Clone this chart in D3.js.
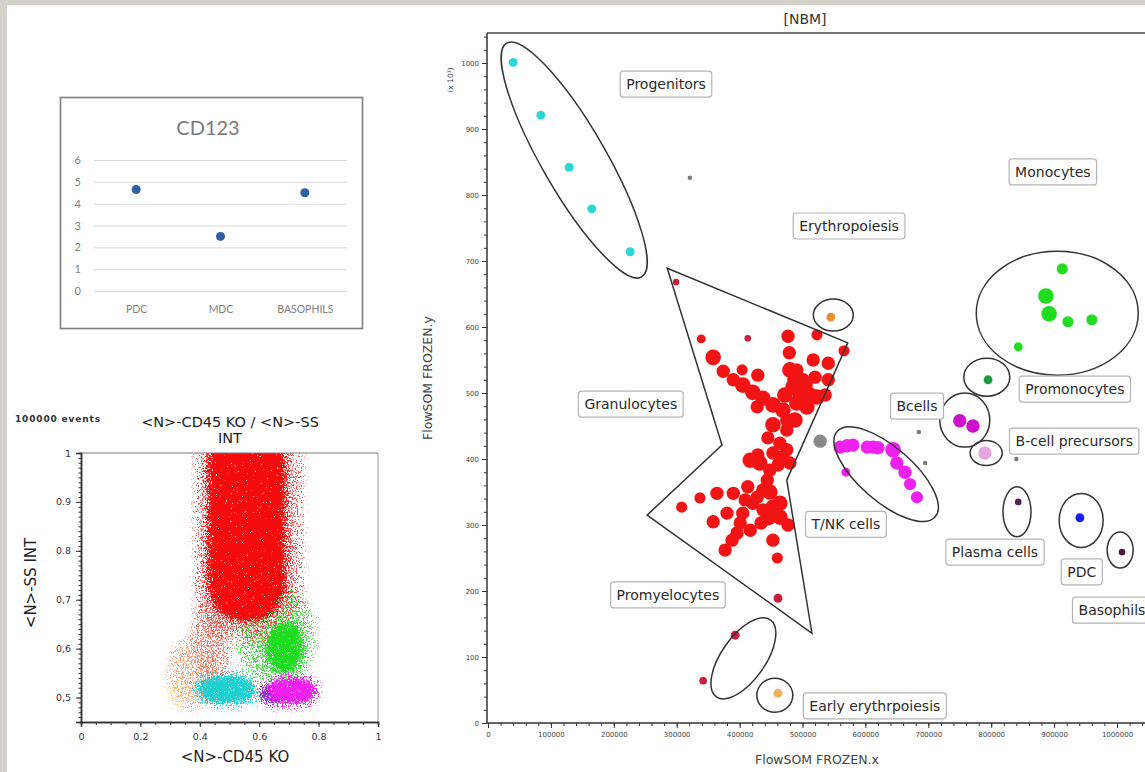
<!DOCTYPE html>
<html><head><meta charset="utf-8">
<script src="https://cdn.jsdelivr.net/npm/d3@7"></script>
<style>
html,body{margin:0;padding:0;background:#d4d1cb;}
svg{display:block;}
text{font-family:"DejaVu Sans",Verdana,sans-serif;}
</style></head><body>
<svg id="c" width="1145" height="772"></svg>
<script>
// ================= DATA =================
// --- CD123 mini chart ---
const cd123Categories = ["PDC", "MDC", "BASOPHILS"];
const cd123Values = [4.65, 2.5, 4.5];
const cd123Ticks = [0, 1, 2, 3, 4, 5, 6];

// --- CD45 KO / SS INT density plot: populations (core extent, colour, relative density) ---
const popNames   = ["peach", "yellow", "salmon", "greenHalo", "redHalo", "cyan", "purple", "magenta", "green", "red"];
const popX0      = [0.30, 0.29, 0.38, 0.53, 0.39, 0.39, 0.60, 0.63, 0.62, 0.425];
const popX1      = [0.45, 0.36, 0.50, 0.78, 0.74, 0.59, 0.69, 0.795, 0.75, 0.69];
const popY0      = [0.48, 0.48, 0.52, 0.53, 0.62, 0.484, 0.484, 0.485, 0.55, 0.655];
const popY1      = [0.62, 0.53, 0.70, 0.72, 1.06, 0.548, 0.53, 0.543, 0.655, 1.06];
const popColors  = ["#f6a27a", "#eedd88", "#f07a6a", "#40d840", "#f24a4a", "#1fd0d0", "#9030d0", "#f020f0", "#1edc1e", "#f40c0c"];
const popDensity = [0.45, 0.35, 0.5, 0.5, 0.45, 0.9, 0.85, 1, 0.85, 1];
const cdXTicks = [0, 0.2, 0.4, 0.6, 0.8, 1];
const cdXTickLabels = ["0", "0.2", "0.4", "0.6", "0.8", "1"];
const cdYTicks = [0.5, 0.6, 0.7, 0.8, 0.9, 1];
const cdYTickLabels = ["0,5", "0,6", "0,7", "0.8", "0.9", "1"];

// --- FlowSOM nodes: [x, y (x10^3), node size] ---
const progenitorNodes = [[40000,1001,16],[84000,921,16],[129000,842,16],[165000,779,16],[226000,714,16]];
const granulocyteNodes = [
 [339000,582,16],[477000,586,36],[523000,588,25],[566000,564,25],[358000,554,49],[479000,561,36],
 [517000,550,36],[541000,545,36],[374000,533,36],[404000,535,25],[429000,527,36],[480000,535,49],
 [520000,524,36],[541000,520,36],[390000,520,36],[405000,512,49],[421000,501,49],[437000,492,49],
 [453000,482,49],[469000,474,49],[485000,509,49],[496000,500,49],[512000,497,49],[523000,494,49],
 [491000,485,49],[507000,479,49],[428000,479,36],[475000,459,36],[475000,444,36],[445000,432,36],
 [464000,424,36],[475000,414,36],[453000,409,36],[417000,398,49],[432000,394,49],[480000,394,36],
 [448000,383,36],[444000,368,36],[437000,353,36],[428000,342,36],[409000,338,36],[390000,348,36],
 [364000,348,36],[337000,341,25],[308000,327,25],[421000,333,36],[405000,318,36],[401000,303,36],
 [380000,318,36],[358000,305,36],[396000,288,36],[388000,277,36],[377000,262,36],[437000,323,36],
 [453000,327,49],[464000,333,49],[445000,311,49],[464000,312,49],[477000,300,36],[453000,277,36],
 [460000,250,25],[453000,452,49],[461000,391,36],[488000,520,49],[501000,520,36],[472000,497,49],
 [488000,459,49],[467000,401,49],[429000,406,36],[448000,350,49],[413000,358,36],[434000,303,36],
 [417000,292,36],[504000,512,49],[536000,497,36],[491000,535,36]];
const darkRedNodes = [[299000,668,9],[413000,583,9],[461000,189,16],[393000,133,16],[342000,64,12]];
const erythroNodes = [[545000,615,16]];
const earlyErythroNodes = [[461000,45,16]];
const greyNodes = [[321000,826,4],[685000,441,4],[695000,394,4],[840000,400,4]];
const greyBigNodes = [[528000,427,36]];
const monocyteNodes = [[913000,688,25],[887000,647,49],[892000,620,49],[922000,608,25],[960000,611,25],[843000,570,16]];
const promonocyteNodes = [[795000,520,16]];
const bcellNodes = [[750000,458,36],[771000,450,36]];
const bPrecursorNodes = [[790000,409,36]];
const tnkNodes = [[560000,418,36],[571000,420,36],[580000,421,36],[603000,418,36],[612000,418,36],[620000,417,36],
 [644000,414,49],[650000,394,36],[663000,380,36],[671000,362,30],[682000,342,30],[569000,380,16]];
const plasmaNodes = [[843000,335,9]];
const pdcNodes = [[941000,311,16]];
const basophilNodes = [[1008000,259,9]];

const nodeGroups = [
  {nodes: progenitorNodes, color: "#2ad6d6"},
  {nodes: granulocyteNodes, color: "#f21414"},
  {nodes: darkRedNodes, color: "#c8203a"},
  {nodes: erythroNodes, color: "#e8902a"},
  {nodes: earlyErythroNodes, color: "#f0b060"},
  {nodes: greyNodes, color: "#7a7a7a"},
  {nodes: greyBigNodes, color: "#8a8a8a"},
  {nodes: monocyteNodes, color: "#22dc22"},
  {nodes: promonocyteNodes, color: "#1a9a40"},
  {nodes: bcellNodes, color: "#cc10cc"},
  {nodes: bPrecursorNodes, color: "#e6a6de"},
  {nodes: tnkNodes, color: "#ee22ee"},
  {nodes: plasmaNodes, color: "#552255"},
  {nodes: pdcNodes, color: "#1a22ee"},
  {nodes: basophilNodes, color: "#4a1a40"}
];

// --- FlowSOM gates (centre in data units, radii in px, rotation deg) ---
const gateCx  = [137000, 549000, 905000, 793000, 758000, 792000, 633000, 841000, 943000, 1005000, 406000, 456000];
const gateCy  = [853, 618, 621, 524, 459, 409, 377, 320, 307, 262, 98, 42];
const gateRx  = [135, 20, 81, 23, 25, 16, 65, 14, 22, 13, 47, 18];
const gateRy  = [32, 16, 62, 19, 27, 12.5, 27, 25, 27, 18, 22, 17];
const gateRot = [60, 0, 0, 0, 0, 0, 41, 0, 0, 0, -55, 0];
const granulocyteGateX = [285000, 572000, 475000, 515000, 253000, 372000];
const granulocyteGateY = [689, 576, 368, 136, 315, 421];

// --- FlowSOM labels ---
const labelNames = ["Progenitors","Erythropoiesis","Monocytes","Granulocytes","Promonocytes","Bcells",
  "B-cell precursors","T/NK cells","Plasma cells","PDC","Basophils","Promyelocytes","Early erythrpoiesis"];
const labelX = [283000, 574000, 898000, 227000, 933000, 682000, 932000, 569000, 806000, 944000, 992000, 286000, 615000];
const labelY = [968, 753, 835, 483, 506, 480, 427, 301, 259, 229, 171, 194, 26];

// ================= DRAWING =================
const svg = d3.select("#c");
svg.append("rect").attr("width", 1145).attr("height", 772).attr("fill", "#d4d1cb");
svg.append("rect").attr("x", 7).attr("y", 5).attr("width", 1138).attr("height", 767).attr("fill", "#fff");
const defs = svg.append("defs");

// ---------- CD123 ----------
const g1 = svg.append("g");
g1.append("rect").attr("x", 60.5).attr("y", 97.5).attr("width", 302).attr("height", 231)
  .attr("fill", "#fff").attr("stroke", "#7f7f7f").attr("stroke-width", 1.6);
const xCd = d3.scalePoint().domain(cd123Categories).range([94, 347]).padding(0.5);
const yCd = d3.scaleLinear().domain([0, 6]).range([291, 160]);
const gy1 = g1.append("g").attr("transform", "translate(94,0)")
  .call(d3.axisLeft(yCd).tickValues(cd123Ticks).tickSize(-253).tickPadding(13).tickFormat(d3.format("d")));
gy1.select(".domain").remove();
gy1.selectAll("line").attr("stroke", "#d9d9d9");
gy1.selectAll("text").attr("fill", "#7f7f7f").style("font-family", "Lato, 'Open Sans', sans-serif").style("font-size", "11px");
const gx1 = g1.append("g").attr("transform", "translate(0,291)")
  .call(d3.axisBottom(xCd).tickSize(0).tickPadding(15));
gx1.select(".domain").remove();
gx1.selectAll("text").attr("fill", "#7f7f7f").style("font-family", "Lato, 'Open Sans', sans-serif").style("font-size", "10.5px");
g1.append("text").attr("x", 208).attr("y", 135).attr("text-anchor", "middle")
  .style("font-family", "Lato, 'Open Sans', sans-serif").style("font-size", "20px").attr("fill", "#7a7a7a").text("CD123");
g1.selectAll("circle.cd").data(cd123Values).join("circle").attr("class", "cd")
  .attr("cx", (d, i) => xCd(cd123Categories[i])).attr("cy", d => yCd(d)).attr("r", 4.5).attr("fill", "#2f5fa5");

// ---------- CD45 KO / SS INT ----------
const xC = d3.scaleLinear().domain([0, 1]).range([81, 378]);
const yC = d3.scaleLinear().domain([0.45, 1]).range([722, 453]);
const g2 = svg.append("g");
defs.append("clipPath").attr("id", "clipC").append("rect")
  .attr("x", xC(0)).attr("y", yC(1)).attr("width", xC(1) - xC(0)).attr("height", yC(0.45) - yC(1));
function speckleFilter(id, color, blur, gain, seed) {
  const f = defs.append("filter").attr("id", id).attr("filterUnits", "userSpaceOnUse")
    .attr("x", 60).attr("y", 420).attr("width", 340).attr("height", 320)
    .attr("color-interpolation-filters", "sRGB");
  f.append("feGaussianBlur").attr("in", "SourceAlpha").attr("stdDeviation", blur).attr("result", "b");
  f.append("feTurbulence").attr("type", "fractalNoise").attr("baseFrequency", 0.8).attr("numOctaves", 2).attr("seed", seed).attr("result", "t");
  f.append("feColorMatrix").attr("in", "t").attr("type", "matrix")
    .attr("values", "0 0 0 0 0  0 0 0 0 0  0 0 0 0 0  3 0 0 0 -1").attr("result", "n");
  f.append("feComposite").attr("in", "b").attr("in2", "n").attr("operator", "arithmetic")
    .attr("k1", 0).attr("k2", gain).attr("k3", -gain).attr("k4", 0).attr("result", "m");
  f.append("feFlood").attr("flood-color", color).attr("result", "c");
  f.append("feComposite").attr("in", "c").attr("in2", "m").attr("operator", "in");
}
popNames.forEach((name, i) => {
  speckleFilter("sp" + i, popColors[i], popDensity[i] < 0.7 ? 6 : 5, 5, i * 7 + 3);
  speckleFilter("co" + i, popColors[i], 2.5, popDensity[i] >= 1 ? 8 : 6, i * 11 + 5);
});
const popG = g2.append("g").attr("clip-path", "url(#clipC)");
function popRect(sel, i, inset) {
  const w = xC(popX1[i]) - xC(popX0[i]) - 2 * inset, h = yC(popY0[i]) - yC(popY1[i]) - 2 * inset;
  sel.attr("x", xC(popX0[i]) + inset).attr("y", yC(popY1[i]) + inset).attr("width", w).attr("height", h)
    .attr("rx", Math.min(w * 0.45, 34)).attr("ry", Math.min(h * 0.45, 40));
}
popNames.forEach((name, i) => {
  popG.append("rect").call(popRect, i, 0).attr("fill", "#000").attr("fill-opacity", popDensity[i])
    .attr("filter", "url(#sp" + i + ")");
  if (popDensity[i] >= 0.7) {
    popG.append("rect").call(popRect, i, 3).attr("fill", "#000").attr("fill-opacity", popDensity[i])
      .attr("filter", "url(#co" + i + ")");
  }
});
// frame
g2.append("line").attr("x1", xC(0)).attr("x2", xC(1)).attr("y1", yC(1)).attr("y2", yC(1)).attr("stroke", "#777");
g2.append("line").attr("x1", xC(1)).attr("x2", xC(1)).attr("y1", yC(1)).attr("y2", yC(0.45)).attr("stroke", "#999");
// axes
const ax2 = g2.append("g").attr("transform", `translate(0,${yC(0.45)})`)
  .call(d3.axisBottom(xC).tickValues(cdXTicks).tickSize(5).tickPadding(6).tickFormat((d, i) => cdXTickLabels[i]));
const ax2m = g2.append("g").attr("transform", `translate(0,${yC(0.45)})`)
  .call(d3.axisBottom(xC).tickValues(d3.range(0, 1.001, 0.05)).tickSize(3).tickFormat(""));
const ay2 = g2.append("g").attr("transform", `translate(${xC(0)},0)`)
  .call(d3.axisLeft(yC).tickValues(cdYTicks).tickSize(5).tickPadding(5).tickFormat((d, i) => cdYTickLabels[i]));
const ay2m = g2.append("g").attr("transform", `translate(${xC(0)},0)`)
  .call(d3.axisLeft(yC).tickValues(d3.range(0.45, 1.0001, 0.01)).tickSize(2.5).tickFormat(""));
[ax2, ax2m, ay2, ay2m].forEach(a => {
  a.select(".domain").attr("stroke", "#333").attr("stroke-width", 1.5);
  a.selectAll("line").attr("stroke", "#333");
  a.selectAll("text").attr("fill", "#333").style("font-size", "9.5px").style("font-family", "'DejaVu Sans',sans-serif");
});
g2.append("text").attr("x", 230).attr("y", 427).attr("text-anchor", "middle").style("font-size", "14.5px").attr("fill", "#222").text("<N>-CD45 KO / <N>-SS");
g2.append("text").attr("x", 230).attr("y", 443).attr("text-anchor", "middle").style("font-size", "14.5px").attr("fill", "#222").text("INT");
g2.append("text").attr("x", 15).attr("y", 422).style("font-size", "9px").style("font-weight", "bold").attr("fill", "#333")
  .attr("textLength", 85).text("100000 events");
g2.append("text").attr("x", 235).attr("y", 762).attr("text-anchor", "middle").style("font-size", "15px").attr("fill", "#222").text("<N>-CD45 KO");
g2.append("text").attr("transform", "translate(36,583) rotate(-90)").attr("text-anchor", "middle").style("font-size", "15px").attr("fill", "#222").text("<N>-SS INT");

// ---------- FlowSOM ----------
const xF = d3.scaleLinear().domain([0, 1e6]).range([488, 1117]);
const yF = d3.scaleLinear().domain([0, 1000]).range([723, 63]);
const rF = d3.scaleSqrt().domain([0, 49]).range([0, 7.8]);
const g3 = svg.append("g");
// axes
const ay3 = g3.append("g").attr("transform", "translate(487,0)")
  .call(d3.axisLeft(yF).tickValues(d3.range(0, 1001, 100)).tickSize(5).tickPadding(3).tickFormat(d3.format("d")));
const ay3m = g3.append("g").attr("transform", "translate(487,0)")
  .call(d3.axisLeft(yF).tickValues(d3.range(0, 1041, 20)).tickSize(3).tickFormat(""));
const ax3 = g3.append("g").attr("transform", "translate(0,723)")
  .call(d3.axisBottom(xF).tickValues(d3.range(0, 1000001, 100000)).tickSize(5).tickPadding(4).tickFormat(d3.format("d")));
const ax3m = g3.append("g").attr("transform", "translate(0,723)")
  .call(d3.axisBottom(xF).tickValues(d3.range(0, 1040001, 20000)).tickSize(3).tickFormat(""));
[ay3, ay3m, ax3, ax3m].forEach(a => {
  a.select(".domain").remove();
  a.selectAll("line").attr("stroke", "#333");
  a.selectAll("text").attr("fill", "#444").style("font-size", "7px").style("font-family", "'DejaVu Sans',sans-serif");
});
g3.append("line").attr("x1", 487).attr("x2", 1145).attr("y1", 33).attr("y2", 33).attr("stroke", "#444").attr("stroke-width", 1.5);
g3.append("line").attr("x1", 487).attr("x2", 487).attr("y1", 33).attr("y2", 723).attr("stroke", "#333").attr("stroke-width", 1.5);
g3.append("line").attr("x1", 487).attr("x2", 1145).attr("y1", 723).attr("y2", 723).attr("stroke", "#333").attr("stroke-width", 1.5);
g3.append("text").attr("x", 805).attr("y", 24).attr("text-anchor", "middle").style("font-size", "14px").attr("fill", "#333").text("[NBM]");
g3.append("text").attr("x", 817).attr("y", 764).attr("text-anchor", "middle").style("font-size", "12.5px").attr("fill", "#444").text("FlowSOM FROZEN.x");
g3.append("text").attr("transform", "translate(432,378) rotate(-90)").attr("text-anchor", "middle").style("font-size", "12.5px").attr("fill", "#444").text("FlowSOM FROZEN.y");
g3.append("text").attr("transform", "translate(453,80) rotate(-90)").attr("text-anchor", "middle").style("font-size", "7.5px").attr("fill", "#444").text("(x 10³)");

// nodes
nodeGroups.forEach(grp => {
  g3.append("g").selectAll("circle").data(grp.nodes).join("circle")
    .attr("cx", d => xF(d[0])).attr("cy", d => yF(d[1])).attr("r", d => rF(d[2]))
    .attr("fill", grp.color);
});
// gates
g3.append("path")
  .attr("d", d3.line().curve(d3.curveLinearClosed).x(d => xF(d[0])).y(d => yF(d[1]))(granulocyteGateX.map((x, i) => [x, granulocyteGateY[i]])))
  .attr("fill", "none").attr("stroke", "#333").attr("stroke-width", 1.5);
g3.selectAll("ellipse.gate").data(gateCx).join("ellipse").attr("class", "gate")
  .attr("transform", (d, i) => `translate(${xF(d)},${yF(gateCy[i])}) rotate(${gateRot[i]})`)
  .attr("rx", (d, i) => gateRx[i]).attr("ry", (d, i) => gateRy[i])
  .attr("fill", "none").attr("stroke", "#333").attr("stroke-width", 1.5);
// labels
labelNames.forEach((name, i) => {
  const lg = g3.append("g").attr("transform", `translate(${xF(labelX[i])},${yF(labelY[i])})`);
  const r = lg.append("rect");
  const t = lg.append("text").attr("text-anchor", "middle").attr("y", 5).style("font-size", "14px").attr("fill", "#2a2a2a").text(name);
  const w = t.node().getComputedTextLength();
  r.attr("x", -w / 2 - 6).attr("y", -13).attr("width", w + 12).attr("height", 26).attr("rx", 3)
    .attr("fill", "#fff").attr("stroke", "#b4b4b4").attr("stroke-width", 1.2);
});
</script>
</body></html>
